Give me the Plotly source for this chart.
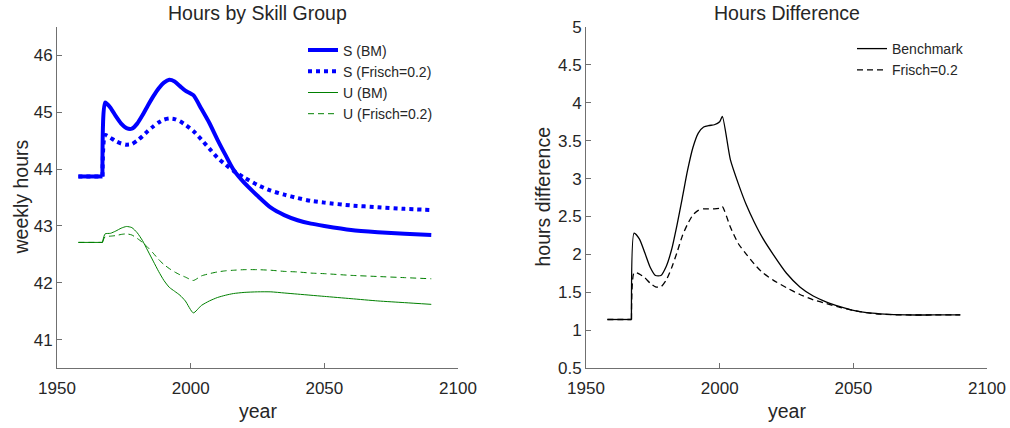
import plotly.graph_objects as go

# ---------------- data ----------------
years_left = [1958, 1967, 1968, 1970, 1972, 1974, 1976, 1978, 1980, 1982, 1984, 1986,
              1988, 1990, 1992, 1994, 1996, 1998, 2001, 2004, 2007, 2010, 2013, 2016,
              2020, 2025, 2030, 2035, 2040, 2045, 2050, 2060, 2070, 2080, 2090]
s_bm = [43.87, 43.87, 45.17, 45.08, 44.93, 44.80, 44.72, 44.71, 44.80, 44.95, 45.12, 45.28,
        45.42, 45.52, 45.57, 45.54, 45.46, 45.38, 45.30, 45.06, 44.81, 44.52, 44.25, 43.99,
        43.76, 43.53, 43.32, 43.19, 43.10, 43.04, 43.00, 42.93, 42.89, 42.86, 42.84]
s_frisch = [43.87, 43.87, 44.60, 44.55, 44.49, 44.45, 44.43, 44.44, 44.50, 44.58, 44.67, 44.75,
            44.82, 44.87, 44.89, 44.88, 44.84, 44.78, 44.67, 44.52, 44.36, 44.20, 44.08, 43.97,
            43.85, 43.72, 43.62, 43.55, 43.49, 43.44, 43.41, 43.36, 43.33, 43.30, 43.28]
u_bm = [42.71, 42.71, 42.86, 42.87, 42.91, 42.96, 42.99, 42.97, 42.88, 42.74, 42.56, 42.38,
        42.20, 42.04, 41.92, 41.85, 41.78, 41.68, 41.47, 41.60, 41.68, 41.74, 41.78, 41.81,
        41.83, 41.84, 41.84, 41.82, 41.80, 41.78, 41.76, 41.72, 41.68, 41.65, 41.62]
u_frisch = [42.71, 42.71, 42.81, 42.82, 42.83, 42.85, 42.86, 42.84, 42.78, 42.71, 42.62, 42.52,
            42.41, 42.32, 42.25, 42.19, 42.14, 42.10, 42.04, 42.12, 42.16, 42.19, 42.21, 42.22,
            42.23, 42.23, 42.22, 42.20, 42.19, 42.17, 42.16, 42.13, 42.11, 42.09, 42.07]

years_right = [1958, 1967, 1968, 1970, 1972, 1974, 1976, 1978, 1980, 1982, 1984, 1986,
               1988, 1990, 1992, 1994, 1996, 1998, 2000, 2001, 2004, 2007, 2010, 2013,
               2016, 2020, 2025, 2030, 2035, 2040, 2045, 2050, 2055, 2060, 2070, 2080, 2090]
diff_bm = [1.14, 1.14, 2.28, 2.20, 2.02, 1.83, 1.72, 1.72, 1.84, 2.06, 2.38, 2.74,
           3.11, 3.41, 3.60, 3.68, 3.70, 3.71, 3.75, 3.82, 3.25, 2.93, 2.65, 2.42,
           2.22, 2.00, 1.75, 1.57, 1.45, 1.37, 1.31, 1.26, 1.23, 1.215, 1.20, 1.20, 1.20]
diff_frisch = [1.14, 1.14, 1.76, 1.74, 1.69, 1.62, 1.57, 1.57, 1.66, 1.82, 2.02, 2.24,
               2.40, 2.52, 2.58, 2.60, 2.60, 2.60, 2.61, 2.63, 2.36, 2.14, 2.00, 1.87,
               1.76, 1.66, 1.56, 1.47, 1.40, 1.35, 1.30, 1.26, 1.23, 1.21, 1.20, 1.20, 1.20]

x_ticks = [1950, 2000, 2050, 2100]
left_yticks = [41, 42, 43, 44, 45, 46]
right_yticks = [0.5, 1, 1.5, 2, 2.5, 3, 3.5, 4, 4.5, 5]
right_yticklabels = ["0.5", "1", "1.5", "2", "2.5", "3", "3.5", "4", "4.5", "5"]

# ---------------- figure ----------------
W, H = 1010, 428


def fx(sx):  # pixel x -> paper fraction
    return sx / W


def fy(sy):  # pixel y -> paper fraction
    return 1 - sy / H


FONT = "Liberation Sans, Arial, Helvetica, sans-serif"
TXT = "#262626"
AX = "#707070"
BLUE = "#0000FF"
GREEN = "#008000"
SM = 0.6
FLAT = 2  # number of leading points on the flat pre-jump segment

fig = go.Figure()


def add_series(xs, ys, name, color, width, dash, xa, ya, leg):
    # flat pre-period drawn straight, the rest smoothed
    fig.add_trace(go.Scatter(x=xs[:FLAT], y=ys[:FLAT], mode="lines", name=name, legendgroup=name,
                             showlegend=False, line=dict(color=color, width=width, dash=dash),
                             xaxis=xa, yaxis=ya, legend=leg, hoverinfo="skip"))
    fig.add_trace(go.Scatter(x=xs[FLAT - 1:], y=ys[FLAT - 1:], mode="lines", name=name, legendgroup=name,
                             line=dict(color=color, width=width, dash=dash, shape="spline", smoothing=SM),
                             xaxis=xa, yaxis=ya, legend=leg))


add_series(years_left, s_bm, "S (BM)", BLUE, 4, "solid", "x", "y", "legend")
add_series(years_left, s_frisch, "S (Frisch=0.2)", BLUE, 4, "dot", "x", "y", "legend")
add_series(years_left, u_bm, "U (BM)", GREEN, 1, "solid", "x", "y", "legend")
add_series(years_left, u_frisch, "U (Frisch=0.2)", GREEN, 1, "6px,4px", "x", "y", "legend")
add_series(years_right, diff_bm, "Benchmark", "black", 1.3, "solid", "x2", "y2", "legend2")
add_series(years_right, diff_frisch, "Frisch=0.2", "black", 1.3, "6px,4px", "x2", "y2", "legend2")

lx0, lx1 = fx(57), fx(458)
rx0, rx1 = fx(586), fx(987)
y0, y1 = fy(368), fy(27)

axis_common = dict(showline=True, linecolor=AX, linewidth=1, ticks="inside", ticklen=5,
                   tickcolor=AX, showgrid=False, zeroline=False, mirror=False, automargin=False,
                   tickfont=dict(family=FONT, size=17, color=TXT))
xaxis_extra = dict(ticklabelstandoff=5)

fig.update_layout(
    width=W, height=H,
    margin=dict(l=0, r=0, t=0, b=0, pad=0, autoexpand=False),
    paper_bgcolor="white", plot_bgcolor="white",
    font=dict(family=FONT, color=TXT),
    xaxis=dict(domain=[lx0, lx1], range=[1950, 2100], tickvals=x_ticks, anchor="y",
               **axis_common, **xaxis_extra),
    yaxis=dict(domain=[y0, y1], range=[40.5, 46.5], tickvals=left_yticks, anchor="x", **axis_common),
    xaxis2=dict(domain=[rx0, rx1], range=[1950, 2100], tickvals=x_ticks, anchor="y2",
                **axis_common, **xaxis_extra),
    yaxis2=dict(domain=[y0, y1], range=[0.5, 5], tickvals=right_yticks, ticktext=right_yticklabels,
                anchor="x2", **axis_common),
    legend=dict(x=fx(303), y=fy(34.5), xanchor="left", yanchor="top", bgcolor="rgba(0,0,0,0)",
                font=dict(family=FONT, size=14, color=TXT), tracegroupgap=0),
    legend2=dict(x=fx(852), y=fy(33), xanchor="left", yanchor="top", bgcolor="rgba(0,0,0,0)",
                 font=dict(family=FONT, size=14, color=TXT), tracegroupgap=0),
    showlegend=True,
)

annots = [
    dict(text="Hours by Skill Group", x=(lx0 + lx1) / 2, y=fy(13), size=19.5),
    dict(text="Hours Difference", x=(rx0 + rx1) / 2, y=fy(13), size=19.5),
    dict(text="year", x=(lx0 + lx1) / 2, y=fy(411), size=19.5),
    dict(text="year", x=(rx0 + rx1) / 2, y=fy(411), size=19.5),
]
for a in annots:
    fig.add_annotation(text=a["text"], x=a["x"], y=a["y"], xref="paper", yref="paper",
                       xanchor="center", yanchor="middle", showarrow=False,
                       font=dict(family=FONT, size=a["size"], color=TXT))
fig.add_annotation(text="weekly hours", x=fx(20), y=(y0 + y1) / 2, xref="paper", yref="paper",
                   xanchor="center", yanchor="middle", showarrow=False, textangle=-90,
                   font=dict(family=FONT, size=19.5, color=TXT))
fig.add_annotation(text="hours difference", x=fx(542), y=(y0 + y1) / 2, xref="paper", yref="paper",
                   xanchor="center", yanchor="middle", showarrow=False, textangle=-90,
                   font=dict(family=FONT, size=19.5, color=TXT))

# remove the default page margin so the figure fills the window exactly; hide the modebar
fig.write_html("out.html", config={"displayModeBar": False},
               post_script="document.body.style.margin='0px';")
